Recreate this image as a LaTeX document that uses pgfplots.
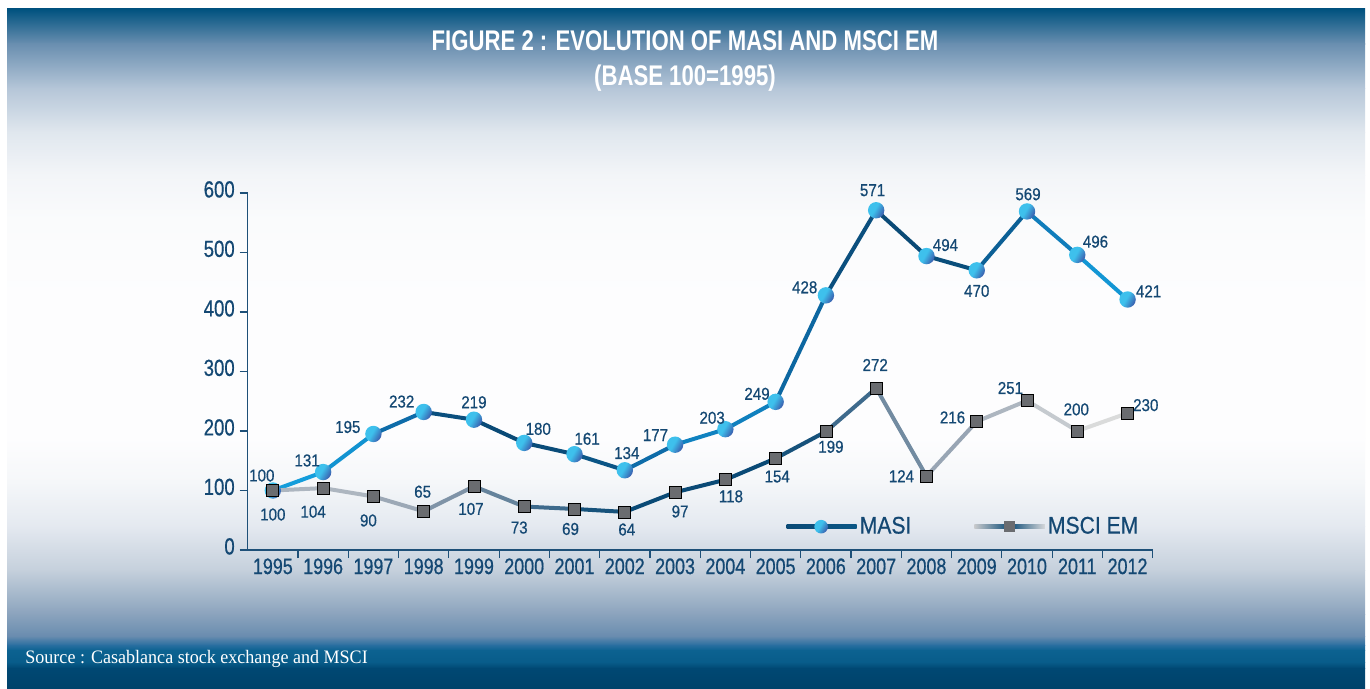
\documentclass[border=0pt]{standalone}
\usepackage{pgfplots}
\pgfplotsset{compat=1.18}
\usepackage{pgfplotstable}
\usepackage{fontspec}
\setmainfont{Liberation Sans}
\newfontfamily\tickfont{Liberation Sans}[FakeStretch=0.8, FakeBold=0.6]
\newfontfamily\labfont{Liberation Sans}[FakeStretch=0.88, FakeBold=0.6]
\newfontfamily\titlefont{Liberation Sans}[FakeStretch=0.78]
\newfontfamily\srcfont{Liberation Serif}[FakeStretch=0.95]

\definecolor{navy}{RGB}{10,74,118}
\definecolor{txt}{RGB}{20,72,115}
\definecolor{lblue}{RGB}{20,160,222}
\definecolor{axc}{RGB}{30,80,120}
\definecolor{sq}{RGB}{106,108,112}
\definecolor{b1}{RGB}{62,192,236}
\definecolor{b2}{RGB}{58,80,165}
\definecolor{lgray}{RGB}{175,178,182}

% background colours (top to bottom)
\definecolor{k01}{RGB}{0,82,127}
\definecolor{k02}{RGB}{106,143,176}
\definecolor{k03}{RGB}{181,198,216}
\definecolor{k04}{RGB}{224,231,238}
\definecolor{k05}{RGB}{243,245,248}
\definecolor{k06}{RGB}{250,251,252}
\definecolor{k07}{RGB}{253,253,254}
\definecolor{k08}{RGB}{253,253,254}
\definecolor{k09}{RGB}{245,247,249}
\definecolor{k10}{RGB}{228,233,240}
\definecolor{k11}{RGB}{197,208,220}
\definecolor{k12}{RGB}{139,163,189}
\definecolor{k13}{RGB}{105,140,175}
\definecolor{k14}{RGB}{40,110,160}
\definecolor{k15}{RGB}{12,98,145}
\definecolor{k16}{RGB}{8,92,138}
\definecolor{k17}{RGB}{0,72,115}
\definecolor{k18}{RGB}{0,66,106}

\pgfdeclarehorizontalshading{ballsh}{100bp}{color(0bp)=(b1); color(45bp)=(b1); color(78bp)=(b2); color(100bp)=(b2)}
\pgfdeclareplotmark{sball}{\pgfpathcircle{\pgfpointorigin}{\pgfplotmarksize}\pgfshadepath{ballsh}{-30}\pgfusepath{}}

\pgfplotsset{
  colormap={masicm}{rgb255=(20,160,222) rgb255=(14,110,172) rgb255=(10,74,118)},
  colormap={mscicm}{rgb255=(222,222,222) rgb255=(140,155,172) rgb255=(10,74,118)},
}

% x = category index, y = value, dx/dy = label offset (bp), c = colour level
\pgfplotstableread{
x y dx dy c
0 100 -5.5 7.5 0
1 131 -8 5.8 0.05
2 195 -12.8 3.5 0.2
3 232 -11 5.2 0.85
4 219 0 8.7 1
5 180 7 7 1
6 161 6.3 7.7 0.95
7 134 1 8.6 0.75
8 177 -9.8 4.8 0.3
9 203 -6.6 5.7 0.3
10 249 -9.3 4 0.35
11 428 -10.6 4 0.85
12 571 -1.8 10 1
13 494 9.5 5.5 1
14 470 0 -10.3 0.9
15 569 0.5 8.6 0.5
16 496 9.1 6.6 0.2
17 421 10.5 4.1 0
}\masi

\pgfplotstableread{
x y dx dy c
0 100 0 -12 0.3
1 104 -5 -11.8 0.3
2 90 -2.5 -12 0.3
3 65 -0.5 9.8 0.5
4 107 -1.5 -11.3 0.6
5 73 -2.5 -10.5 0.7
6 69 -2 -10 0.9
7 64 1 -8.8 1
8 97 2.5 -9.6 1
9 118 2.8 -8.3 1
10 154 0.8 -9.1 1
11 199 2.5 -7.6 0.9
12 272 -0.5 11.6 0.7
13 124 -12.5 0 0.5
14 216 -12.1 2 0.35
15 251 -8.3 6.3 0.25
16 200 -0.5 10.8 0.05
17 230 9.1 4 0
}\msci

\begin{document}
\begin{tikzpicture}[x=1bp,y=1bp]
\fill[white] (0,0) rectangle (685,344);
% background bands
\shade[top color=k01, bottom color=k02] (3.5,321.8) rectangle (682.5,339.5);
\shade[top color=k02, bottom color=k03] (3.5,299.8) rectangle (682.5,322);
\shade[top color=k03, bottom color=k04] (3.5,277.8) rectangle (682.5,300);
\shade[top color=k04, bottom color=k05] (3.5,256.3) rectangle (682.5,278);
\shade[top color=k05, bottom color=k06] (3.5,234.3) rectangle (682.5,256.5);
\shade[top color=k06, bottom color=k07] (3.5,193.8) rectangle (682.5,234.5);
\shade[top color=k07, bottom color=k08] (3.5,124.8) rectangle (682.5,194);
\shade[top color=k08, bottom color=k09] (3.5,102.8) rectangle (682.5,125);
\shade[top color=k09, bottom color=k10] (3.5,80.8) rectangle (682.5,103);
\shade[top color=k10, bottom color=k11] (3.5,58.8) rectangle (682.5,81);
\shade[top color=k11, bottom color=k12] (3.5,36.8) rectangle (682.5,59);
\shade[top color=k12, bottom color=k13] (3.5,25.8) rectangle (682.5,37);
\shade[top color=k13, bottom color=k14] (3.5,21.3) rectangle (682.5,26);
\shade[top color=k14, bottom color=k15] (3.5,18.8) rectangle (682.5,21.5);
\shade[top color=k15, bottom color=k16] (3.5,12.8) rectangle (682.5,19);
\shade[top color=k16, bottom color=k17] (3.5,9.8) rectangle (682.5,13);
\shade[top color=k17, bottom color=k18] (3.5,0) rectangle (682.5,10);

\node[anchor=base, inner sep=0pt, text=white, font=\titlefont\bfseries\fontsize{14.2bp}{16bp}\selectfont] at (342.5,318.7) {FIGURE 2 : EVOLUTION OF MASI AND MSCI EM};
\node[anchor=base, inner sep=0pt, text=white, font=\titlefont\bfseries\fontsize{14.2bp}{16bp}\selectfont] at (342.5,301.5) {(BASE 100=1995)};
\node[anchor=base west, inner sep=0pt, text=white, font=\srcfont\fontsize{9.5bp}{12bp}\selectfont] at (12.5,12.5) {Source : Casablanca stock exchange and MSCI};

\begin{axis}[
  at={(123.85bp,69bp)}, anchor=south west,
  scale only axis, width=452.5bp, height=178.5bp,
  xmin=-0.5, xmax=17.5, ymin=0, ymax=600,
  enlargelimits=false, clip=false,
  axis lines=left,
  axis line style={-, draw=axc, line width=0.6bp},
  tick align=outside,
  major tick length=4bp, minor tick length=4bp,
  ytick={0,100,...,600},
  ytick style={draw=axc, line width=0.6bp},
  xtick={0,...,17},
  xticklabels={1995,1996,1997,1998,1999,2000,2001,2002,2003,2004,2005,2006,2007,2008,2009,2010,2011,2012},
  major x tick style={draw=none},
  minor xtick={0.5,1.5,...,17.5},
  minor x tick style={draw=axc, line width=0.6bp},
  /pgf/number format/assume math mode=true,
  yticklabel style={font=\tickfont\fontsize{11.6bp}{13bp}\selectfont, text=txt, inner sep=2.3bp, yshift=1.8bp},
  xticklabel style={font=\tickfont\fontsize{11.2bp}{13bp}\selectfont, text=txt, inner sep=0pt},
  legend columns=2,
  legend style={draw=none, fill=none, at={(rel axis cs:0.5956,0.0653)}, anchor=west, inner sep=0pt, outer sep=0pt,
    font=\labfont\fontsize{12bp}{13bp}\selectfont, text=txt,
    nodes={inner sep=1.5bp},
    /tikz/every even column/.append style={column sep=30bp}},
]
% coloured lines
\addplot[mesh, forget plot, point meta=explicit, point meta min=0, point meta max=1,
  colormap name=masicm, line width=2bp, line join=round, line cap=round]
  table[x=x, y=y, meta=c]{\masi};
\addplot[mesh, forget plot, point meta=explicit, point meta min=0, point meta max=1,
  colormap name=mscicm, line width=2bp, line join=round, line cap=round]
  table[x=x, y=y, meta=c]{\msci};
% markers and labels
\addplot[only marks, mark=sball, mark size=4.1bp,
  point meta=explicit symbolic, nodes near coords,
  visualization depends on={\thisrow{dx} \as \dx},
  visualization depends on={\thisrow{dy} \as \dy},
  every node near coord/.append style={anchor=center, xshift=\dx*1bp, yshift=\dy*1bp,
    font=\labfont\fontsize{8.6bp}{10bp}\selectfont, text=txt, inner sep=0pt},
  legend image code/.code={
    \shade[draw=none, left color=navy, right color=navy!85!lblue] (0bp,-1bp) rectangle (35bp,1bp);
    \path[draw=none, mark=sball, mark size=3.4bp] plot coordinates {(17.2bp,0bp)};
  }]
  table[x=x, y=y, meta=y]{\masi};
\addlegendentry{MASI}
\addplot[only marks, mark=square*, mark size=3bp, mark options={fill=sq, draw=none},
  point meta=explicit symbolic, nodes near coords,
  visualization depends on={\thisrow{dx} \as \dx},
  visualization depends on={\thisrow{dy} \as \dy},
  every node near coord/.append style={anchor=center, xshift=\dx*1bp, yshift=\dy*1bp,
    font=\labfont\fontsize{8.6bp}{10bp}\selectfont, text=txt, inner sep=0pt},
  legend image code/.code={
    \shade[draw=none, left color=lgray!70, right color=navy] (0bp,-1bp) rectangle (17.7bp,1bp);
    \shade[draw=none, left color=navy, right color=lgray!50] (17.7bp,-1bp) rectangle (35.3bp,1bp);
    \fill[draw=none, sq] (15bp,-2.7bp) rectangle (20.4bp,2.7bp);
  }]
  table[x=x, y=y, meta=y]{\msci};
\addlegendentry{MSCI EM}
\end{axis}
\end{tikzpicture}
\end{document}
